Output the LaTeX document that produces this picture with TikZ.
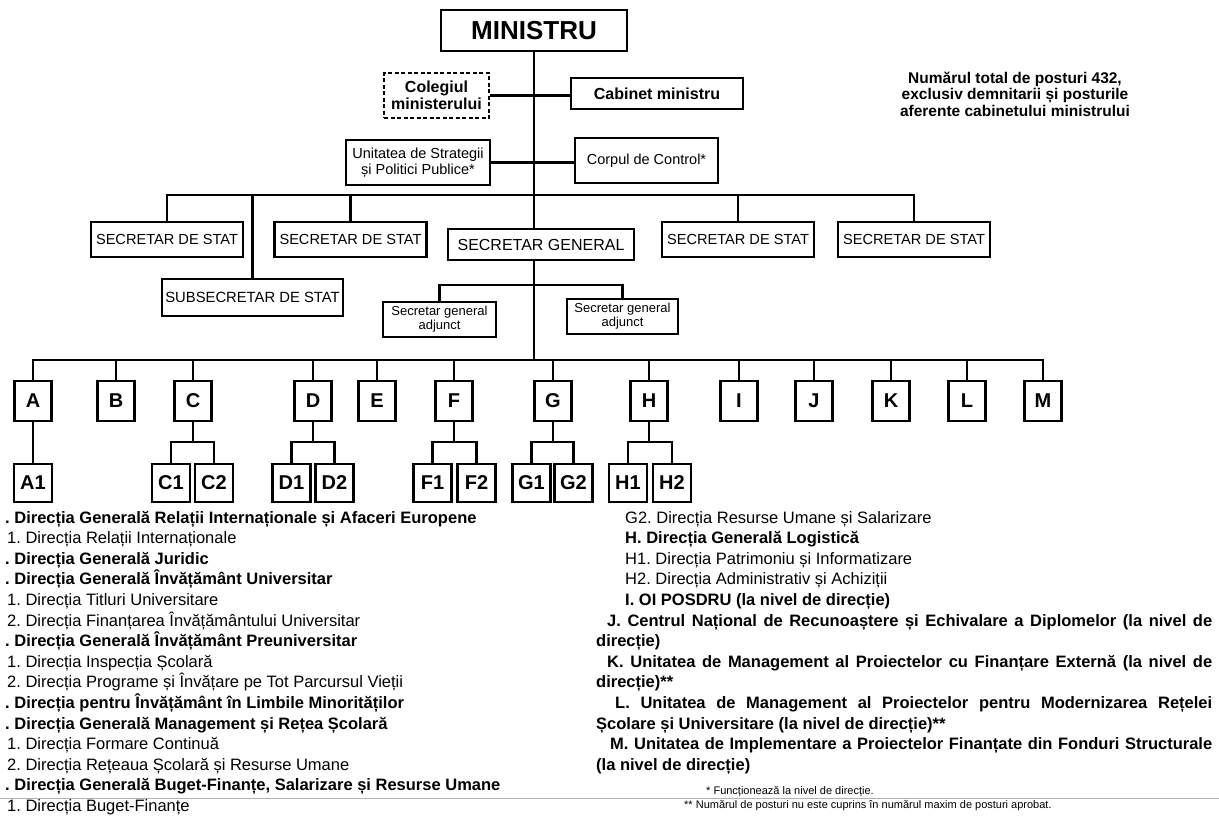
\documentclass[tikz,border=0pt]{standalone}
\usepackage{fontspec}
\setmainfont{Liberation Sans}
\newcommand{\fsz}[2]{\fontsize{#1}{#2}\selectfont}
\frenchspacing
\begin{document}
\begin{tikzpicture}[x=1pt,y=-1pt,
  box/.style={draw, line width=2.6pt, fill=white, inner sep=0pt, align=center, text=black},
  conn/.style={line width=2.2pt},
  lbox/.style={box, minimum width=37pt, minimum height=40pt, font=\bfseries\fsz{20}{20}},
  sbox/.style={box, minimum width=38pt, minimum height=38pt, font=\bfseries\fsz{20}{20}},
  ssbox/.style={box, minimum width=152pt, minimum height=35pt, font=\fsz{14.6}{14}},
  legb/.style={anchor=base west, inner sep=0pt, font=\bfseries\fsz{16.5}{16.5}},
  legr/.style={anchor=base west, inner sep=0pt, font=\fsz{16.5}{16.5}},
  foot/.style={anchor=base west, inner sep=0pt, font=\fsz{11}{11}},
]
\useasboundingbox (0,0) rectangle (1219,819);

% top level
\node[box, minimum width=186pt, minimum height=41pt, font=\bfseries\fsz{26}{26}] (min) at (534,30.5) {MINISTRU};
\node[box, dash pattern=on 4pt off 2.5pt, minimum width=105pt, minimum height=45pt, font=\bfseries\fsz{16}{17}] (col) at (436.5,95.5) {Colegiul\\ministerului};
\node[box, minimum width=172pt, minimum height=31pt, font=\bfseries\fsz{16}{16}] (cab) at (657,93.5) {Cabinet ministru};
\node[box, minimum width=144pt, minimum height=45pt, font=\fsz{14.5}{16}] (usp) at (418,162.5) {Unitatea de Strategii\\și Politici Publice*};
\node[box, minimum width=143pt, minimum height=45pt, font=\fsz{14.5}{16}] (cc) at (646.5,160.5) {Corpul de Control*};

% secretaries
\node[ssbox] (s1) at (167,239.5) {SECRETAR DE STAT};
\node[ssbox] (s2) at (350.5,239.5) {SECRETAR DE STAT};
\node[box, minimum width=186pt, minimum height=31pt, font=\fsz{16}{16}] (sg) at (541,244.5) {SECRETAR GENERAL};
\node[ssbox] (s3) at (738,239.5) {SECRETAR DE STAT};
\node[ssbox] (s4) at (914,239.5) {SECRETAR DE STAT};
\node[box, minimum width=181pt, minimum height=37pt, font=\fsz{14.8}{14}] (sub) at (252.5,297.5) {SUBSECRETAR DE STAT};
\node[box, minimum width=113pt, minimum height=35pt, font=\fsz{13}{14}] (adj1) at (439.5,319.5) {Secretar general\\adjunct};
\node[box, minimum width=111pt, minimum height=35pt, font=\fsz{13}{14}] (adj2) at (622.5,316.5) {Secretar general\\adjunct};

% directions
\foreach \n/\x in {A/33,B/116,C/193,D/313,E/377,F/454,G/553,H/649,I/739,J/814,K/891,L/967,M/1043}
  \node[lbox] (\n) at (\x,401) {\n};
\foreach \n/\x in {A1/33,C1/171,C2/214,D1/291.5,D2/334.5,F1/432.5,F2/476.5,G1/531.5,G2/573.5,H1/628,H2/672}
  \node[sbox] (\n) at (\x,483) {\n};

% connectors
\coordinate (sb) at (0,195);
\coordinate (ab) at (0,285);
\coordinate (lb) at (0,360);
\coordinate (kb) at (0,442);
\draw[conn] (min.south) -- (min.south |- sg.north);
\draw[conn] (col.east) -- (col.east -| cab.west);
\draw[conn] (usp.east) -- (usp.east -| cc.west);
\draw[conn] (s1.north) -- (s1.north |- sb) -- (s4.north |- sb) -- (s4.north);
\foreach \n in {s2,s3,sub} \draw[conn] (\n.north) -- (\n.north |- sb);
\draw[conn] (adj1.north) -- (adj1.north |- ab) -- (adj2.north |- ab) -- (adj2.north);
\draw[conn] (min.south |- sg.south) -- (min.south |- lb);
\draw[conn] (A.north) -- (A.north |- lb) -- (M.north |- lb) -- (M.north);
\foreach \n in {B,C,D,E,F,G,H,I,J,K,L} \draw[conn] (\n.north) -- (\n.north |- lb);
\draw[conn] (A.south) -- (A1.north);
\foreach \p in {C,D,F,G,H} {
  \draw[conn] (\p.south) -- (\p.south |- kb);
  \draw[conn] (\p1.north) -- (\p1.north |- kb) -- (\p2.north |- kb) -- (\p2.north);
}

% note top right
\node[font=\bfseries\fsz{15.5}{16.5}, align=center, inner sep=0pt] (note) at (1015,94) {Numărul total de posturi 432,\\exclusiv demnitarii și posturile\\aferente cabinetului ministrului};

% left legend
\node[legb] (l1) at (5,523) {. Direcția Generală Relații Internaționale și Afaceri Europene};
\node[legr] (l2) at (7,543.6) {1. Direcția Relații Internaționale};
\node[legb] (l3) at (5,564.2) {. Direcția Generală Juridic};
\node[legb] (l4) at (5,584.8) {. Direcția Generală Învățământ Universitar};
\node[legr] (l5) at (7,605.4) {1. Direcția Titluri Universitare};
\node[legr] (l6) at (7,626) {2. Direcția Finanțarea Învățământului Universitar};
\node[legb] (l7) at (5,646.6) {. Direcția Generală Învățământ Preuniversitar};
\node[legr] (l8) at (7,667.2) {1. Direcția Inspecția Școlară};
\node[legr] (l9) at (7,687.8) {2. Direcția Programe și Învățare pe Tot Parcursul Vieții};
\node[legb] (l10) at (5,708.4) {. Direcția pentru Învățământ în Limbile Minorităților};
\node[legb] (l11) at (5,729) {. Direcția Generală Management și Rețea Școlară};
\node[legr] (l12) at (7,749.6) {1. Direcția Formare Continuă};
\node[legr] (l13) at (7,770.2) {2. Direcția Rețeaua Școlară și Resurse Umane};
\node[legb] (l14) at (5,790.8) {. Direcția Generală Buget-Finanțe, Salarizare și Resurse Umane};
\node[legr] (l15) at (7,811.4) {1. Direcția Buget-Finanțe};

% right legend
\node[legr] (r1) at (625,523) {G2. Direcția Resurse Umane și Salarizare};
\node[legb] (r2) at (625,543.6) {H. Direcția Generală Logistică};
\node[legr] (r3) at (625,564.2) {H1. Direcția Patrimoniu și Informatizare};
\node[legr] (r4) at (625,584.8) {H2. Direcția Administrativ și Achiziții};
\node[legb] (r5) at (625,605.4) {I. OI POSDRU (la nivel de direcție)};
\node[legb] (r6) at (607,626) {\makebox[605pt][s]{J. Centrul Național de Recunoaștere și Echivalare a Diplomelor (la nivel de}};
\node[legb] (r7) at (596,646.6) {direcție)};
\node[legb] (r8) at (607,667.2) {\makebox[605pt][s]{K. Unitatea de Management al Proiectelor cu Finanțare Externă (la nivel de}};
\node[legb] (r9) at (596,687.8) {direcție)**};
\node[legb] (r10) at (615,708.4) {\makebox[597pt][s]{L. Unitatea de Management al Proiectelor pentru Modernizarea Rețelei}};
\node[legb] (r11) at (596,729) {Școlare și Universitare (la nivel de direcție)**};
\node[legb] (r12) at (610,749.6) {\makebox[602pt][s]{M. Unitatea de Implementare a Proiectelor Finanțate din Fonduri Structurale}};
\node[legb] (r13) at (596,770.2) {(la nivel de direcție)};

% footnotes
\draw[gray!60, line width=0.6pt] (0,798) -- (1219,798);
\node[foot] (f1) at (706,794) {* Funcționează la nivel de direcție.};
\node[foot] (f2) at (684,808) {** Numărul de posturi nu este cuprins în numărul maxim de posturi aprobat.};
\end{tikzpicture}
\end{document}
